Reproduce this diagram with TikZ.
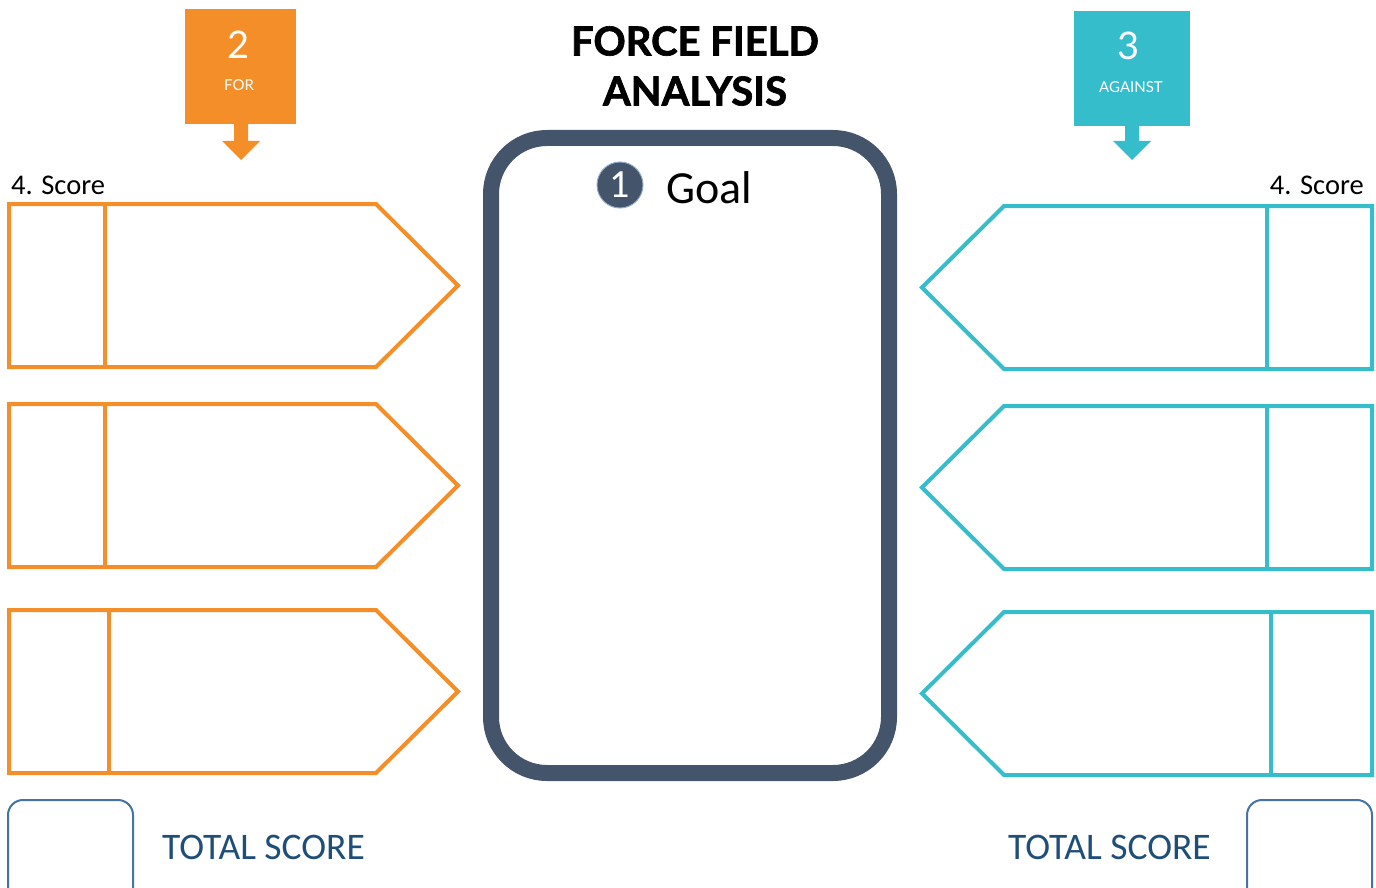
\documentclass[tikz,border=0pt]{standalone}
\usepackage{fontspec}
\setmainfont{Carlito}
\newfontfamily\lato{Lato}
\newfontfamily\latoheavy{Lato}[BoldFeatures={FakeBold=1.6}]
\definecolor{forc}{RGB}{244,142,40}
\definecolor{agc}{RGB}{53,189,204}
\definecolor{goalc}{RGB}{68,84,106}
\definecolor{tsbox}{RGB}{70,115,165}
\definecolor{tstext}{RGB}{31,78,121}
\tikzset{
  forbox/.style={fill=forc, draw=none},
  agbox/.style={fill=agc, draw=none},
  forarrow/.style={draw=forc, line width=4pt, line join=miter},
  agarrow/.style={draw=agc, line width=4pt, line join=miter},
  goalframe/.style={draw=goalc, line width=16pt, rounded corners=56pt},
  scorebox/.style={draw=tsbox, line width=2pt, rounded corners=15pt},
  tslabel/.style={text=tstext, font=\fontsize{37.5}{40}\selectfont, inner sep=0pt},
  scorelabel/.style={font=\fontsize{28.5}{30}\selectfont, inner sep=0pt, anchor=base},
}
\begin{document}
\begin{tikzpicture}[x=1pt,y=-1pt]
\useasboundingbox (0,0) rectangle (1376,888);
\clip (0,0) rectangle (1376,888);

% title
\node[font=\latoheavy\bfseries\fontsize{40}{50}\selectfont, align=center, inner sep=0pt] (title) at (695,66)
  {FORCE FIELD\\ANALYSIS};

% "for" header with downward arrow
\fill[forbox] (185,9) rectangle (296,124);
\fill[forc] (234,123) -- (248,123) -- (248,141) -- (260,141) -- (241,160) -- (222,141) -- (234,141) -- cycle;
\node[text=white, font=\lato\fontsize{38}{40}\selectfont, inner sep=0pt] (fornum) at (239,45) {2};
\node[text=white, font=\lato\fontsize{15}{18}\selectfont, inner sep=0pt] (forlbl) at (239,85) {FOR};

% "against" header with downward arrow
\fill[agbox] (1074,11) rectangle (1190,126);
\fill[agc] (1125,125) -- (1139,125) -- (1139,141) -- (1151,141) -- (1132,160) -- (1113,141) -- (1125,141) -- cycle;
\node[text=white, font=\lato\fontsize{38}{40}\selectfont, inner sep=0pt] (agnum) at (1129,46) {3};
\node[text=white, font=\lato\fontsize{15}{18}\selectfont, inner sep=0pt] (aglbl) at (1131,87) {AGAINST};

% goal frame
\draw[goalframe] (491,138) rectangle (889,773);
\node[circle, fill=goalc, draw=tsbox!60!white, line width=1pt, minimum size=46pt, inner sep=0pt,
      text=white, font=\fontsize{40}{40}\selectfont] (one) at (620,185) {1};
\node[font=\fontsize{46}{50}\selectfont, anchor=base west, inner sep=0pt] (goal) at (666,203) {Goal};

% score headings
\node[scorelabel, anchor=base west] (lscore) at (11,194) {4. Score};
\node[scorelabel, anchor=base east] (rscore) at (1364,194) {4. Score};

% forces for
\foreach \t/\b/\d in {204/367/105, 404/567/105, 610/773/109}{
  \draw[forarrow] (9,\t) -- (376,\t) -- (458,{(\t+\b)/2}) -- (376,\b) -- (9,\b) -- cycle;
  \draw[forarrow] (\d,\t) -- (\d,\b);
}

% forces against
\foreach \t/\b/\d in {206/369/1267, 406/569/1267, 612/775/1271}{
  \draw[agarrow] (1372,\t) -- (1004,\t) -- (922,{(\t+\b)/2}) -- (1004,\b) -- (1372,\b) -- cycle;
  \draw[agarrow] (\d,\t) -- (\d,\b);
}

% total scores
\draw[scorebox] (8,800) rectangle (133,905);
\node[tslabel, anchor=west] (ltotal) at (162,847) {TOTAL SCORE};
\draw[scorebox] (1247,800) rectangle (1372,905);
\node[tslabel, anchor=east] (rtotal) at (1211,847) {TOTAL SCORE};
\end{tikzpicture}
\end{document}
